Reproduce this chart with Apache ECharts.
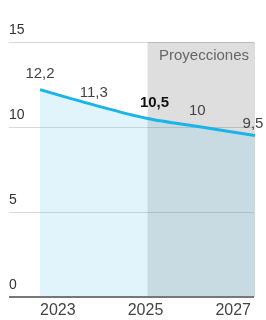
<!DOCTYPE html>
<html><head><meta charset="utf-8">
<script src="https://cdn.jsdelivr.net/npm/echarts@6/dist/echarts.min.js"></script>
<style>html,body{margin:0;padding:0;background:#fff;overflow:hidden}#c{width:266px;height:320px;display:block}</style>
</head><body><div id="c"></div>
<script>
const years = ['2023','2024','2025','2026','2027'];
const values = [12.2, 11.3, 10.5, 10, 9.5];
const labels = ['12,2','11,3','10,5','10','9,5'];
const yTicks = [0, 5, 10, 15];
const projFrom = '2025', projTo = '2027', projText = 'Proyecciones';

const font = 'Liberation Sans, Arial, sans-serif';
const labelCfg = [
  {distance: 8},
  {distance: 4},
  {distance: 8, fontWeight: 'bold', offset: [7, 0], color: '#111'},
  {distance: 9, offset: [-4, 0]},
  {distance: 4, offset: [-2, 0]}
];
const chart = echarts.init(document.getElementById('c'));
chart.setOption({
  animation: false,
  grid: [
    {left: 9, right: 12, top: 42, bottom: 23, outerBoundsMode: 'none', containLabel: false},
    {left: 40, right: 11, top: 42, bottom: 23, outerBoundsMode: 'none', containLabel: false}
  ],
  xAxis: [
    {gridIndex: 0, type: 'value', min: 0, max: 1, show: false},
    {gridIndex: 1, type: 'category', data: years, boundaryGap: false,
     axisLine: {show: false}, axisTick: {show: false}, splitLine: {show: false},
     axisLabel: {interval: 1, color: '#444', fontSize: 16, fontFamily: font, margin: 6,
       alignMinLabel: 'left', alignMaxLabel: 'right', padding: [0, 4, 0, 0]}}
  ],
  yAxis: [
    {gridIndex: 0, type: 'value', min: yTicks[0], max: yTicks[yTicks.length-1], interval: 5,
     axisLine: {show: false}, axisTick: {show: false},
     splitLine: {lineStyle: {color: '#d8d8d8', width: 1}},
     axisLabel: {inside: true, margin: 0, verticalAlign: 'bottom', padding: [0,0,5,0],
       color: '#333', fontSize: 14, fontFamily: font}},
    {gridIndex: 1, type: 'value', min: 0, max: 15, show: false}
  ],
  series: [
    {type: 'line', xAxisIndex: 0, yAxisIndex: 0, data: [], silent: true,
     markLine: {silent: true, symbol: 'none', label: {show: false},
       lineStyle: {color: '#777', width: 2, type: 'solid'}, data: [{yAxis: 0}]}, z: 5},
    {type: 'line', xAxisIndex: 1, yAxisIndex: 1,
     data: values.map((v, i) => ({value: v, label: Object.assign({
       show: true, position: 'top', formatter: labels[i], color: '#444', fontSize: 15, fontFamily: font
     }, labelCfg[i])})),
     smooth: 0.3, symbol: 'circle', symbolSize: 0.1, showSymbol: true,
     itemStyle: {color: '#19b4e8'},
     lineStyle: {color: '#19b4e8', width: 3},
     areaStyle: {color: 'rgba(120,200,236,0.32)', origin: 'start'},
     markArea: {silent: true, itemStyle: {color: 'rgba(0,0,0,0.13)'},
       label: {show: true, position: 'insideTopRight', color: '#666',
         fontSize: 15, fontFamily: font, distance: 6},
       data: [[{xAxis: projFrom, name: projText}, {xAxis: projTo}]]}, z: 2}
  ]
});
</script></body></html>
